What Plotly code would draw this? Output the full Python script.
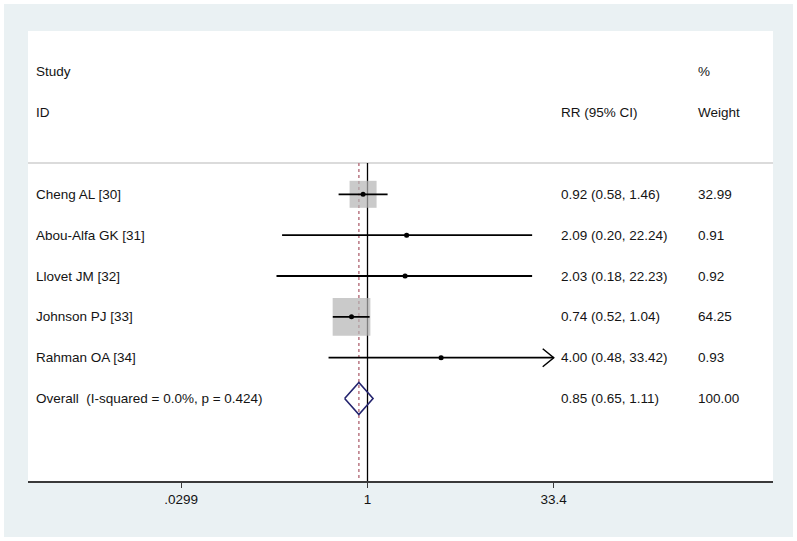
import math
import plotly.graph_objects as go

# ---- data ----
studies = ["Cheng AL [30]", "Abou-Alfa GK [31]", "Llovet JM [32]", "Johnson PJ [33]", "Rahman OA [34]"]
rr = [0.92, 2.09, 2.03, 0.74, 4.00]
ci_low = [0.58, 0.20, 0.18, 0.52, 0.48]
ci_high = [1.46, 22.24, 22.23, 1.04, 33.42]
weights = [32.99, 0.91, 0.92, 64.25, 0.93]

overall_label = "Overall\u00a0 (I-squared = 0.0%, p = 0.424)"
overall_rr = 0.85
overall_low = 0.65
overall_high = 1.11
overall_weight = 100.00

tick_vals = [0.0299, 1, 33.4]
tick_text = [".0299", "1", "33.4"]

# ---- layout constants ----
W, H = 797, 541
ML, MR, MT, MB = 28, 24, 31, 60
PW = W - ML - MR
PH = H - MT - MB
X_RANGE = [-2.778, 3.318]      # log10 range of the x axis
Y_RANGE = [8.018, -2.998]      # reversed row axis
ROW_PX = PH / (Y_RANGE[0] - Y_RANGE[1])
PX_PER_DEC = PW / (X_RANGE[1] - X_RANGE[0])
XMAX_CLIP = tick_vals[-1]
SEP_Y = 0.234

FONT = "Liberation Sans, Arial, sans-serif"
FS = 13.5
TXT = "#141414"

rows = list(range(1, len(studies) + 1))
overall_row = len(studies) + 1

fig = go.Figure()

# boxes, area proportional to weight
k = 27 / math.sqrt(32.99)
box_sizes = [k * math.sqrt(w) for w in weights]
fig.add_trace(go.Scatter(
    x=rr, y=rows, mode="markers",
    marker=dict(symbol="square", size=box_sizes, color="#b4b4b4", line=dict(width=0)),
    hoverinfo="skip", showlegend=False))

# CI lines
lx, ly = [], []
for lo, hi, r in zip(ci_low, ci_high, rows):
    lx += [lo, min(hi, XMAX_CLIP), None]
    ly += [r, r, None]
fig.add_trace(go.Scatter(x=lx, y=ly, mode="lines", line=dict(color="black", width=1.8),
                         hoverinfo="skip", showlegend=False))

# arrows for clipped CIs
ax_, ay_ = [], []
back = 10 ** (-11 / PX_PER_DEC)
dy = 9 / ROW_PX
for hi, r in zip(ci_high, rows):
    if hi > XMAX_CLIP:
        ax_ += [XMAX_CLIP * back, XMAX_CLIP, XMAX_CLIP * back, None]
        ay_ += [r - dy, r, r + dy, None]
fig.add_trace(go.Scatter(x=ax_, y=ay_, mode="lines", line=dict(color="black", width=1.5),
                         hoverinfo="skip", showlegend=False))

# point estimates
fig.add_trace(go.Scatter(x=rr, y=rows, mode="markers",
                         marker=dict(symbol="circle", size=5, color="black"),
                         hoverinfo="skip", showlegend=False))

# overall diamond
dh = 16 / ROW_PX
fig.add_trace(go.Scatter(
    x=[overall_low, overall_rr, overall_high, overall_rr, overall_low],
    y=[overall_row, overall_row - dh, overall_row, overall_row + dh, overall_row],
    mode="lines", line=dict(color="#24246e", width=1.6),
    hoverinfo="skip", showlegend=False))

shapes = [
    dict(type="rect", xref="paper", yref="paper",
         x0=(4 - ML) / PW, x1=(W - 4 - ML) / PW,
         y0=-(H - 4 - (H - MB)) / PH, y1=(H - MB - 4) / PH,
         fillcolor="#eaf1f3", line=dict(width=0), layer="below"),
    dict(type="rect", xref="paper", yref="paper", x0=0, x1=1, y0=0, y1=1,
         fillcolor="white", line=dict(width=0), layer="below"),
    dict(type="line", xref="paper", yref="y", x0=0, x1=1, y0=SEP_Y, y1=SEP_Y,
         line=dict(color="#cfcfcf", width=1.5), layer="below"),
    dict(type="line", xref="x", yref="y", x0=1, x1=1, y0=SEP_Y, y1=Y_RANGE[0],
         line=dict(color="black", width=1.3), layer="below"),
    dict(type="line", xref="x", yref="y", x0=overall_rr, x1=overall_rr, y0=SEP_Y, y1=Y_RANGE[0],
         line=dict(color="#b97682", width=1.5, dash="3px,3px"), layer="below"),
]

def px_to_paper(px):
    return (px - ML) / PW

annotations = []
def add_text(txt, xpx, row):
    annotations.append(dict(text=txt, xref="paper", yref="y", x=px_to_paper(xpx), y=row,
                            xanchor="left", yanchor="middle", showarrow=False,
                            font=dict(family=FONT, size=FS, color=TXT)))

X_LABEL, X_EST, X_W = 34, 559, 696
add_text("Study", X_LABEL, -2)
add_text("ID", X_LABEL, -1)
add_text("%", X_W, -2)
add_text("RR (95% CI)", X_EST, -1)
add_text("Weight", X_W, -1)
for name, e, lo, hi, w, r in zip(studies, rr, ci_low, ci_high, weights, rows):
    add_text(name, X_LABEL, r)
    add_text(f"{e:.2f} ({lo:.2f}, {hi:.2f})", X_EST, r)
    add_text(f"{w:.2f}", X_W, r)
add_text(overall_label, X_LABEL, overall_row)
add_text(f"{overall_rr:.2f} ({overall_low:.2f}, {overall_high:.2f})", X_EST, overall_row)
add_text(f"{overall_weight:.2f}", X_W, overall_row)

fig.update_layout(
    width=W, height=H,
    margin=dict(l=ML, r=MR, t=MT, b=MB, pad=0),
    paper_bgcolor="white", plot_bgcolor="white",
    shapes=shapes, annotations=annotations,
    xaxis=dict(type="log", range=X_RANGE, tickvals=tick_vals, ticktext=tick_text,
               showgrid=False, zeroline=False, showline=True, linecolor="#3a3a3a", linewidth=1.5,
               ticks="outside", ticklen=5, tickcolor="#3a3a3a", tickwidth=1.3,
               ticklabelstandoff=0,
               tickfont=dict(family=FONT, size=FS, color=TXT), fixedrange=True),
    yaxis=dict(range=Y_RANGE, visible=False, fixedrange=True),
    showlegend=False,
)

fig.write_html("out.html", config={"displayModeBar": False},
               post_script="document.body.style.margin='0px';")
